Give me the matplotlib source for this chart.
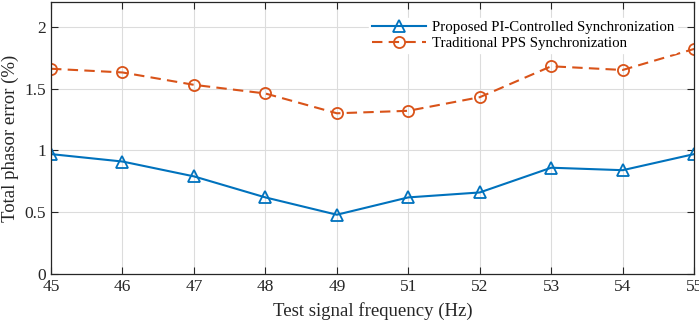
import matplotlib
matplotlib.use("Agg")
import matplotlib.pyplot as plt

freqs = ["45", "46", "47", "48", "49", "51", "52", "53", "54", "55"]
proposed = [0.97, 0.91, 0.79, 0.62, 0.48, 0.62, 0.66, 0.86, 0.84, 0.97]
traditional = [1.66, 1.63, 1.53, 1.46, 1.30, 1.32, 1.43, 1.68, 1.65, 1.82]
yticks = [0, 0.5, 1, 1.5, 2]
ytick_labels = ["0", "0.5", "1", "1.5", "2"]

plt.rcParams['font.family'] = ['Liberation Serif', 'DejaVu Serif']

fig = plt.figure(figsize=(6.99, 3.24), dpi=100)
ax = fig.add_axes([0.073, 0.154, 0.920, 0.840])

x = list(range(len(freqs)))
ax.plot(x, proposed, color='#0072BD', linestyle='-', marker='^', markersize=8,
        markerfacecolor='none', markeredgewidth=1.3, linewidth=1.5,
        label='Proposed PI-Controlled Synchronization')
ax.plot(x, traditional, color='#D95319', linestyle='--', marker='o', markersize=8,
        markerfacecolor='none', markeredgewidth=1.3, linewidth=1.5,
        dashes=(5, 3), label='Traditional PPS Synchronization')

ax.set_xlim(0, len(freqs) - 1)
ax.set_ylim(0, 2.2)
ax.set_xticks(x)
ax.set_xticklabels(freqs)
ax.set_yticks(yticks)
ax.set_yticklabels(ytick_labels)
ax.tick_params(direction='in', length=5, labelsize=12.5, colors='#262626',
               top=True, right=True)
for s in ax.spines.values():
    s.set_color('#262626')
    s.set_linewidth(0.9)
ax.grid(True, color='#dcdcdc', linewidth=0.8)
ax.set_axisbelow(True)
ax.set_xlabel('Test signal frequency (Hz)', fontsize=13.5, color='#262626', labelpad=5)
ax.set_ylabel('Total phasor error (%)', fontsize=13.5, color='#262626', labelpad=4)

leg = ax.legend(loc='upper right', bbox_to_anchor=(0.985, 0.97), fontsize=10.7,
                frameon=True, framealpha=1, edgecolor='white', handlelength=3.6,
                borderpad=0.2, labelspacing=0.2, handletextpad=0.4)

fig.savefig('out.png', dpi=100)
